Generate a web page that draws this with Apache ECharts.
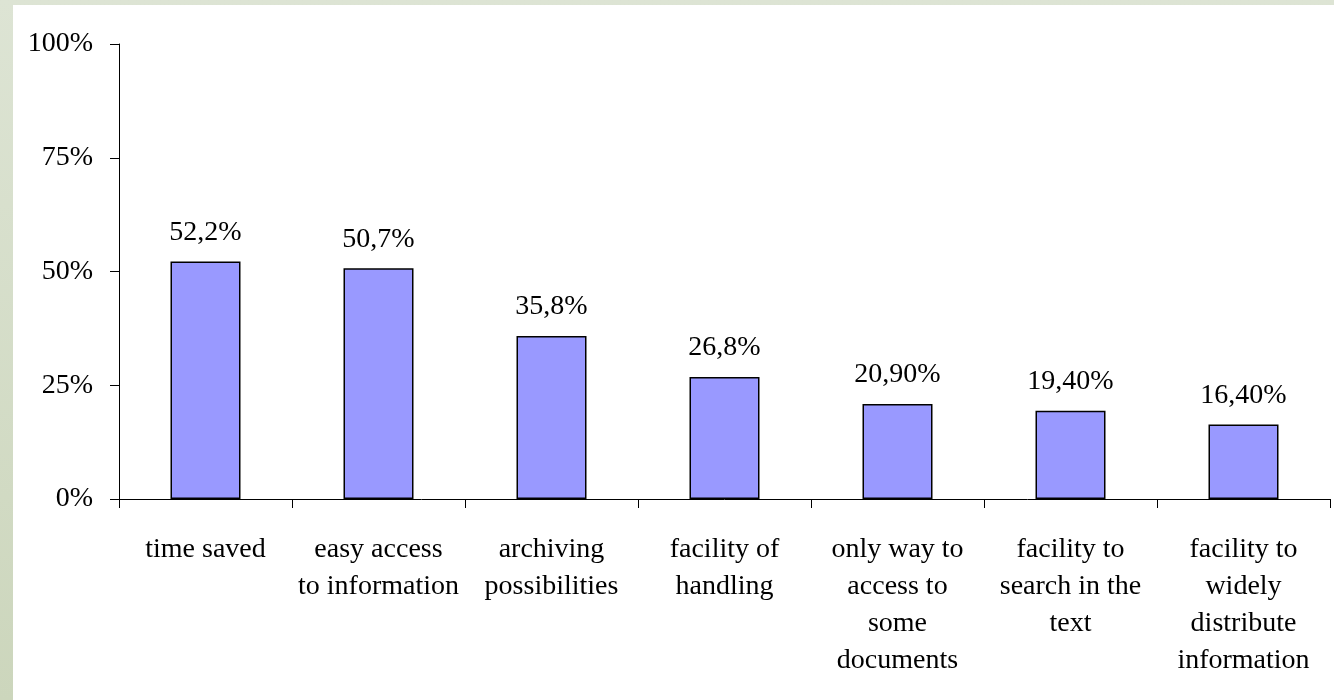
<!DOCTYPE html>
<html>
<head>
<meta charset="utf-8">
<script src="https://cdn.jsdelivr.net/npm/echarts@6/dist/echarts.min.js"></script>
<style>
  html, body { margin: 0; padding: 0; width: 1334px; height: 700px; overflow: hidden;
    background: linear-gradient(to bottom, #dde4d4 0%, #ccd6bc 100%); }
  #panel { position: absolute; left: 13px; top: 5px; width: 1321px; height: 695px; background: #ffffff; }
  #chart { position: absolute; left: 0; top: 0; width: 1334px; height: 700px; }
</style>
</head>
<body>
<div id="panel"></div>
<div id="chart"></div>
<script>
// Reasons for using electronic documents (share of respondents)
const categories = [
  'time saved',
  'easy access\nto information',
  'archiving\npossibilities',
  'facility of\nhandling',
  'only way to\naccess to\nsome\ndocuments',
  'facility to\nsearch in the\ntext',
  'facility to\nwidely\ndistribute\ninformation'
];
const values = [52.2, 50.7, 35.8, 26.8, 20.9, 19.4, 16.4];
const valueLabels = ['52,2%', '50,7%', '35,8%', '26,8%', '20,90%', '19,40%', '16,40%'];

const font = '"Liberation Serif", "Times New Roman", serif';
const chart = echarts.init(document.getElementById('chart'), null, { renderer: 'canvas' });

chart.setOption({
  backgroundColor: 'transparent',
  animation: false,
  grid: { left: 119, right: 4, top: 44, bottom: 201, containLabel: false },
  xAxis: {
    type: 'category',
    data: categories,
    boundaryGap: true,
    axisLine: { lineStyle: { color: '#000', width: 1 } },
    axisTick: { show: true, inside: false, length: 9, alignWithLabel: false,
      lineStyle: { color: '#000', width: 1 } },
    axisLabel: { interval: 0, color: '#000', fontFamily: font, fontSize: 28,
      lineHeight: 37, margin: 32, align: 'center' },
    splitLine: { show: false }
  },
  yAxis: {
    type: 'value',
    min: 0, max: 100, interval: 25,
    axisLine: { show: true, lineStyle: { color: '#000', width: 1 } },
    axisTick: { show: true, inside: false, length: 9, lineStyle: { color: '#000', width: 1 } },
    axisLabel: { color: '#000', fontFamily: font, fontSize: 28, margin: 26,
      formatter: v => v + '%' },
    splitLine: { show: false }
  },
  series: [{
    type: 'bar',
    data: values,
    barWidth: 70,
    itemStyle: { color: '#9999ff', borderColor: '#000', borderWidth: 1.5 },
    label: {
      show: true, position: 'top', distance: 15,
      color: '#000', fontFamily: font, fontSize: 28,
      formatter: p => valueLabels[p.dataIndex]
    }
  }]
});
</script>
</body>
</html>
